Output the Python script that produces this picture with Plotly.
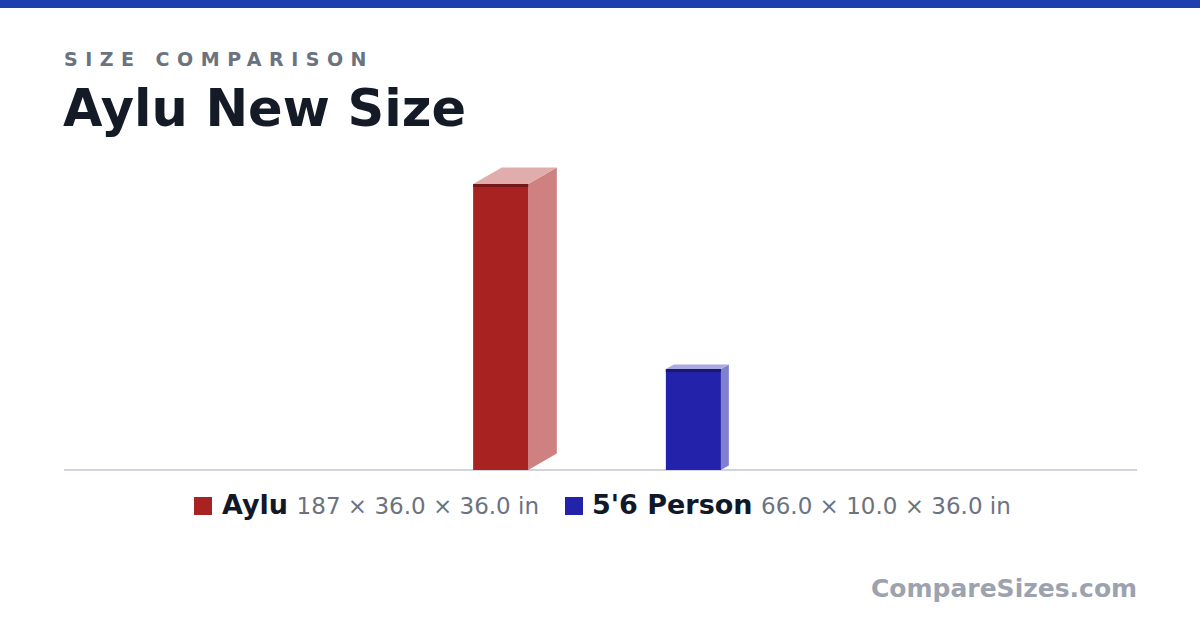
import plotly.graph_objects as go

# ---- data ----
names = ["Aylu", "5'6 Person"]
heights = [187, 66.0]          # inches
depths = [36.0, 10.0]          # inches (side)
widths = [36.0, 36.0]          # inches (front)
dim_labels = ["187 × 36.0 × 36.0 in", "66.0 × 10.0 × 36.0 in"]
front_colors = ["#A82222", "#2222AA"]
side_colors = ["#CF8080", "#8080D0"]
top_colors = ["#E0ACAC", "#AAAAE0"]
edge_colors = ["#761818", "#18186E"]

# legend layout (pixels from left): square, label start
legend_sq_x = [194, 565]
legend_txt_x = [222, 592]

W, H = 1200, 630
scale = 286 / 187.0            # px per inch
base_px = 470                  # baseline from top
x_range = [0, W / scale]
y_range = [-(H - base_px) / scale, base_px / scale]

gap = 71.3
kx, ky = 0.52, 0.30
edge = 2.0
center_px = 601

fig = go.Figure()

spans = [w + kx * d for w, d in zip(widths, depths)]
total = sum(spans) + gap * (len(spans) - 1)
x0 = center_px / scale - total / 2

for i, name in enumerate(names):
    h, w, d = heights[i], widths[i], depths[i]
    dx, dy = kx * d, ky * d
    xl, xr = x0, x0 + w
    fig.add_trace(go.Scatter(x=[xr, xr + dx, xr + dx, xr, xr], y=[0, dy, h + dy, h, 0],
                             fill="toself", fillcolor=side_colors[i], mode="lines",
                             line=dict(width=0), showlegend=False, hoverinfo="skip"))
    fig.add_trace(go.Scatter(x=[xl, xr, xr + dx, xl + dx, xl], y=[h, h, h + dy, h + dy, h],
                             fill="toself", fillcolor=top_colors[i], mode="lines",
                             line=dict(width=0), showlegend=False, hoverinfo="skip"))
    fig.add_trace(go.Scatter(x=[xl, xr, xr, xl, xl], y=[0, 0, h, h, 0],
                             fill="toself", fillcolor=front_colors[i], mode="lines",
                             line=dict(width=0), showlegend=False, hoverinfo="skip",
                             name=name))
    fig.add_trace(go.Scatter(x=[xl, xr, xr, xl, xl], y=[h - edge, h - edge, h, h, h - edge],
                             fill="toself", fillcolor=edge_colors[i], mode="lines",
                             line=dict(width=0), showlegend=False, hoverinfo="skip"))
    x0 += spans[i] + gap

    # legend item
    fig.add_shape(type="rect", xref="paper", yref="paper",
                  x0=legend_sq_x[i] / W, x1=(legend_sq_x[i] + 18) / W,
                  y0=1 - 515 / H, y1=1 - 497 / H,
                  fillcolor=front_colors[i], line=dict(width=0))
    fig.add_annotation(
        text=f"<b>{name}</b> <span style='font-size:23px;color:#6B7280'>{dim_labels[i]}</span>",
        xref="paper", yref="paper", x=(legend_txt_x[i] - 2) / W, y=1 - 504 / H,
        xanchor="left", yanchor="middle", showarrow=False,
        font=dict(family="DejaVu Sans", size=27, color="#111827"))

# baseline
fig.add_shape(type="line", xref="paper", yref="y", x0=64 / W, x1=1137 / W, y0=0, y1=0,
              line=dict(color="#D1D5DB", width=2), layer="below")
# top band
fig.add_shape(type="rect", xref="paper", yref="paper", x0=0, x1=1, y0=1 - 8 / H, y1=1,
              fillcolor="#1E40AF", line=dict(width=0))

fig.add_annotation(text="<b><span style='letter-spacing:7.5px'>SIZE COMPARISON</span></b>",
                   xref="paper", yref="paper",
                   x=62 / W, y=1 - 59 / H, xanchor="left", yanchor="middle", showarrow=False,
                   font=dict(family="DejaVu Sans", size=19, color="#6B7280"))
fig.add_annotation(text="<b>Aylu New Size</b>", xref="paper", yref="paper",
                   x=61 / W, y=1 - 108 / H, xanchor="left", yanchor="middle", showarrow=False,
                   font=dict(family="DejaVu Sans", size=51, color="#141B26"))
fig.add_annotation(text="<b>CompareSizes.com</b>", xref="paper", yref="paper",
                   x=1139 / W, y=1 - 588 / H, xanchor="right", yanchor="middle", showarrow=False,
                   font=dict(family="DejaVu Sans", size=25, color="#9CA3AF"))

fig.update_layout(
    width=W, height=H,
    margin=dict(l=0, r=0, t=0, b=0),
    paper_bgcolor="white", plot_bgcolor="white",
    xaxis=dict(range=x_range, visible=False, fixedrange=True),
    yaxis=dict(range=y_range, visible=False, fixedrange=True),
    showlegend=False,
)

fig.write_html("out.html", config={"displayModeBar": False, "staticPlot": True},
               post_script="document.body.style.margin='0';document.body.style.overflow='hidden';")
